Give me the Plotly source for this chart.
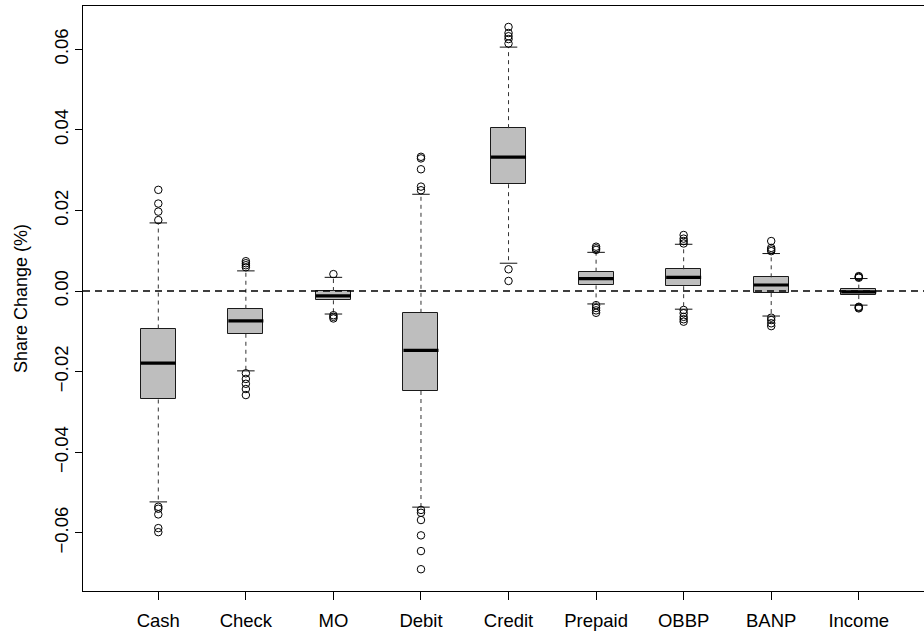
import plotly.graph_objects as go

categories = ["Cash", "Check", "MO", "Debit", "Credit", "Prepaid", "OBBP", "BANP", "Income"]
lower_whisker = [-0.0523, -0.0198, -0.0057, -0.0536, 0.0069, -0.0032, -0.0045, -0.0062, -0.0035]
q1 = [-0.0269, -0.0106, -0.0023, -0.0248, 0.0265, 0.0014, 0.0012, -0.0005, -0.0010]
median = [-0.0179, -0.0074, -0.0012, -0.0147, 0.0332, 0.0031, 0.0034, 0.0015, -0.0002]
q3 = [-0.0093, -0.0044, 0.0000, -0.0054, 0.0404, 0.0048, 0.0054, 0.0034, 0.0006]
upper_whisker = [0.0169, 0.0050, 0.0034, 0.0240, 0.0605, 0.0096, 0.0116, 0.0093, 0.0031]
outliers = [
    [0.0251, 0.0217, 0.0197, 0.0176, -0.0535, -0.0540, -0.0554, -0.0588, -0.0598],
    [0.0059, 0.0064, 0.0069, 0.0074, -0.0204, -0.0218, -0.0230, -0.0243, -0.0258],
    [0.0042, -0.0060, -0.0064, -0.0068],
    [0.0250, 0.0259, 0.0302, 0.0329, 0.0333, -0.0543, -0.0550, -0.0568, -0.0606, -0.0645, -0.0690],
    [0.0614, 0.0625, 0.0632, 0.0640, 0.0655, 0.0054, 0.0025],
    [0.0102, 0.0106, 0.0110, -0.0035, -0.0042, -0.0048, -0.0054],
    [0.0118, 0.0124, 0.0130, 0.0139, -0.0047, -0.0055, -0.0064, -0.0070, -0.0076],
    [0.0099, 0.0103, 0.0107, 0.0124, -0.0066, -0.0072, -0.0080, -0.0087],
    [0.0033, 0.0035, 0.0037, -0.0039, -0.0041, -0.0043],
]
y_ticks = [-0.06, -0.04, -0.02, 0.00, 0.02, 0.04, 0.06]

BOX_W = 0.4
STAPLE_W = 0.2
pos = list(range(1, len(categories) + 1))
FONT = "Liberation Sans, Arial, sans-serif"

fig = go.Figure()

# boxes
fig.add_trace(go.Bar(
    x=pos, base=q1, y=[b - a for a, b in zip(q1, q3)], width=BOX_W,
    marker=dict(color="#BEBEBE", line=dict(color="#1a1a1a", width=1)),
    hoverinfo="skip", showlegend=False,
))

# whiskers (dashed)
wx, wy = [], []
for p, lo, a, b, hi in zip(pos, lower_whisker, q1, q3, upper_whisker):
    wx += [p, p, None, p, p, None]
    wy += [b, hi, None, a, lo, None]
fig.add_trace(go.Scatter(x=wx, y=wy, mode="lines",
                         line=dict(color="#333333", width=1, dash="4px,4px"),
                         hoverinfo="skip", showlegend=False))

# staples
sx, sy = [], []
for p, lo, hi in zip(pos, lower_whisker, upper_whisker):
    sx += [p - STAPLE_W / 2, p + STAPLE_W / 2, None, p - STAPLE_W / 2, p + STAPLE_W / 2, None]
    sy += [hi, hi, None, lo, lo, None]
fig.add_trace(go.Scatter(x=sx, y=sy, mode="lines",
                         line=dict(color="#111111", width=1),
                         hoverinfo="skip", showlegend=False))

# medians
mx, my = [], []
for p, m in zip(pos, median):
    mx += [p - BOX_W / 2, p + BOX_W / 2, None]
    my += [m, m, None]
fig.add_trace(go.Scatter(x=mx, y=my, mode="lines",
                         line=dict(color="black", width=3.2),
                         hoverinfo="skip", showlegend=False))

# outliers
ox, oy = [], []
for p, outs in zip(pos, outliers):
    for v in outs:
        ox.append(p)
        oy.append(v)
fig.add_trace(go.Scatter(x=ox, y=oy, mode="markers",
                         marker=dict(symbol="circle-open", size=7.5,
                                     color="black", line=dict(width=1, color="black")),
                         hoverinfo="skip", showlegend=False))

# zero reference line
fig.add_shape(type="line", xref="paper", x0=0, x1=1, yref="y", y0=0, y1=0,
              line=dict(color="black", width=1.6, dash="7px,5px"), layer="above")

fig.update_layout(
    width=924, height=637,
    margin=dict(l=83, r=0, t=6, b=46),
    paper_bgcolor="white", plot_bgcolor="white",
    font=dict(family=FONT, size=18.5, color="black"),
    bargap=0,
    xaxis=dict(
        range=[0.14, 9.745],
        tickmode="array", tickvals=pos, ticktext=categories,
        showgrid=False, zeroline=False,
        showline=True, linecolor="black", linewidth=1, mirror=True,
        ticks="outside", ticklen=8, tickcolor="black", tickwidth=1,
        ticklabelstandoff=5,
        tickfont=dict(family=FONT, size=18.5, color="black"),
    ),
    yaxis=dict(
        range=[-0.0744, 0.0707],
        tickmode="array", tickvals=y_ticks, tickformat=".2f",
        tickangle=-90,
        showgrid=False, zeroline=False,
        showline=True, linecolor="black", linewidth=1, mirror=False,
        ticks="outside", ticklen=7, tickcolor="black", tickwidth=1,
        tickfont=dict(family=FONT, size=18.5, color="black"),
        title=dict(text="Share Change (%)", font=dict(family=FONT, size=18, color="black"),
                   standoff=18),
    ),
)

fig.write_html("out.html")
